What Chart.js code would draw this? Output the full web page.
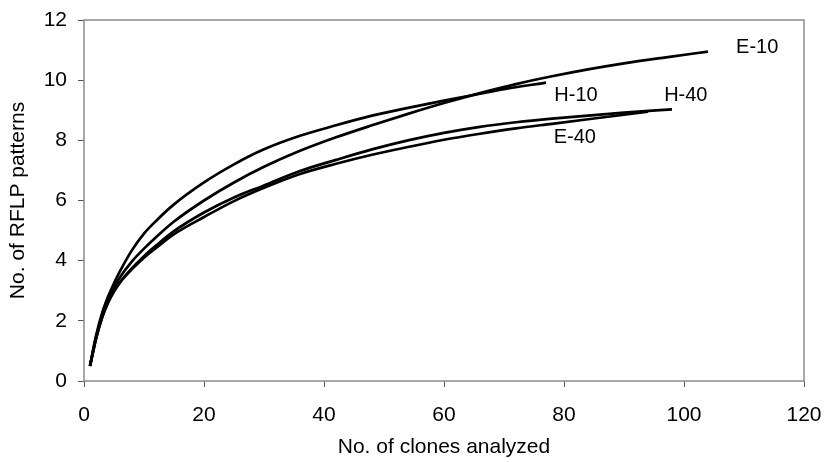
<!DOCTYPE html>
<html>
<head>
<meta charset="utf-8">
<script src="https://cdn.jsdelivr.net/npm/chart.js@4/dist/chart.umd.min.js"></script>
<style>
    html, body { margin: 0; padding: 0; background: #fff; }
    #wrap { width: 824px; height: 462px; }
</style>
</head>
<body>
<div id="wrap"><canvas id="curves" width="824" height="462"></canvas></div>
<script>
// Curvas de rarefaccion: No. de patrones RFLP vs clones analizados
const h10X = [1, 2, 3, 4, 5, 6, 8, 10, 12, 15, 20, 25, 30, 36, 42, 48, 54, 60, 66, 70, 77];
const h10Y = [0.5, 1.5, 2.25, 2.8, 3.25, 3.65, 4.35, 4.9, 5.32, 5.87, 6.6, 7.2, 7.7, 8.15, 8.5, 8.82, 9.08, 9.32, 9.55, 9.7, 9.92];

const e10X = [1, 2, 3, 4, 5, 6, 8, 10, 12, 15, 20, 25, 30, 36, 42, 48, 54, 60, 66, 72, 78, 84, 90, 97, 104];
const e10Y = [0.5, 1.45, 2.15, 2.7, 3.1, 3.45, 3.98, 4.4, 4.78, 5.3, 6.0, 6.6, 7.12, 7.65, 8.1, 8.5, 8.88, 9.24, 9.57, 9.87, 10.13, 10.36, 10.56, 10.76, 10.95];

const h40X = [1, 2, 3, 4, 5, 6, 8, 10, 12, 15, 20, 25, 30, 36, 42, 48, 54, 60, 66, 72, 78, 84, 90, 98];
const h40Y = [0.5, 1.4, 2.1, 2.6, 2.98, 3.28, 3.75, 4.15, 4.5, 4.98, 5.6, 6.1, 6.5, 6.98, 7.35, 7.7, 8.0, 8.25, 8.45, 8.6, 8.72, 8.82, 8.92, 9.03];

const e40X = [1, 2, 3, 4, 5, 6, 8, 10, 12, 15, 20, 25, 30, 36, 42, 48, 54, 60, 66, 72, 78, 84, 90, 94];
const e40Y = [0.5, 1.4, 2.1, 2.6, 2.98, 3.28, 3.72, 4.1, 4.42, 4.88, 5.45, 5.98, 6.42, 6.88, 7.22, 7.52, 7.78, 8.02, 8.22, 8.4, 8.55, 8.7, 8.85, 8.95];

const seriesNames = ['H-10', 'E-10', 'H-40', 'E-40'];
const xTicks = [0, 20, 40, 60, 80, 100, 120];
const yTicks = [0, 2, 4, 6, 8, 10, 12];

// etiquetas de las curvas (en coordenadas de datos)
const tagNames = ['E-10', 'H-10', 'H-40', 'E-40'];
const tagX = [112.2, 82, 100.3, 81.8];
const tagY = [11.1, 9.5, 9.5, 8.08];

const FONT = '"Liberation Sans", Arial, sans-serif';
const axisGray = '#8c8c8c';

function toPoints(xs, ys) {
    return xs.map((x, i) => ({ x: x, y: ys[i] }));
}

const allX = [h10X, e10X, h40X, e40X];
const allY = [h10Y, e10Y, h40Y, e40Y];

// marco gris alrededor del area del grafico
const frame = {
    id: 'frame',
    beforeDatasetsDraw(chart) {
        const a = chart.chartArea;
        const ctx = chart.ctx;
        ctx.save();
        ctx.strokeStyle = axisGray;
        ctx.lineWidth = 1.5;
        ctx.strokeRect(a.left, a.top, a.right - a.left, a.bottom - a.top);
        ctx.restore();
    }
};

// nombres junto a cada curva
const tags = {
    id: 'tags',
    afterDatasetsDraw(chart) {
        const ctx = chart.ctx;
        const xs = chart.scales.x, ys = chart.scales.y;
        ctx.save();
        ctx.fillStyle = '#000';
        ctx.font = '20px ' + FONT;
        ctx.textAlign = 'center';
        ctx.textBaseline = 'middle';
        tagNames.forEach((t, i) => {
            ctx.fillText(t, xs.getPixelForValue(tagX[i]), ys.getPixelForValue(tagY[i]));
        });
        ctx.restore();
    }
};

new Chart(document.getElementById('curves'), {
    type: 'line',
    data: {
        datasets: seriesNames.map((name, i) => ({
            label: name,
            data: toPoints(allX[i], allY[i]),
            borderColor: '#000',
            borderWidth: 2.7,
            pointRadius: 0,
            fill: false,
            cubicInterpolationMode: 'monotone'
        }))
    },
    options: {
        responsive: false,
        animation: false,
        layout: { padding: { top: 20, right: 20, left: 0, bottom: 0 } },
        plugins: {
            legend: { display: false },
            tooltip: { enabled: false }
        },
        scales: {
            x: {
                type: 'linear',
                min: 0,
                max: 120,
                afterFit: (s) => { s.height = 81; s.paddingLeft = 0; s.paddingRight = 0; },
                afterBuildTicks: (s) => { s.ticks = xTicks.map(v => ({ value: v })); },
                grid: { drawOnChartArea: false, drawTicks: true, tickLength: 6, color: '#555' },
                border: { display: false },
                ticks: { color: '#000', padding: 16, maxRotation: 0, font: { family: FONT, size: 21 } },
                title: {
                    display: true,
                    text: 'No. of clones analyzed',
                    color: '#000',
                    padding: { top: 0, bottom: 2 },
                    font: { family: FONT, size: 21 }
                }
            },
            y: {
                type: 'linear',
                min: 0,
                max: 12,
                afterFit: (s) => { s.width = 84; s.paddingTop = 0; s.paddingBottom = 0; },
                afterBuildTicks: (s) => { s.ticks = yTicks.map(v => ({ value: v })); },
                grid: { drawOnChartArea: false, drawTicks: true, tickLength: 6, color: '#555' },
                border: { display: false },
                ticks: { color: '#000', padding: 11, font: { family: FONT, size: 21 } },
                title: {
                    display: true,
                    text: 'No. of RFLP patterns',
                    color: '#000',
                    padding: { top: 6, bottom: 0 },
                    font: { family: FONT, size: 21 }
                }
            }
        }
    },
    plugins: [frame, tags]
});
</script>
</body>
</html>
